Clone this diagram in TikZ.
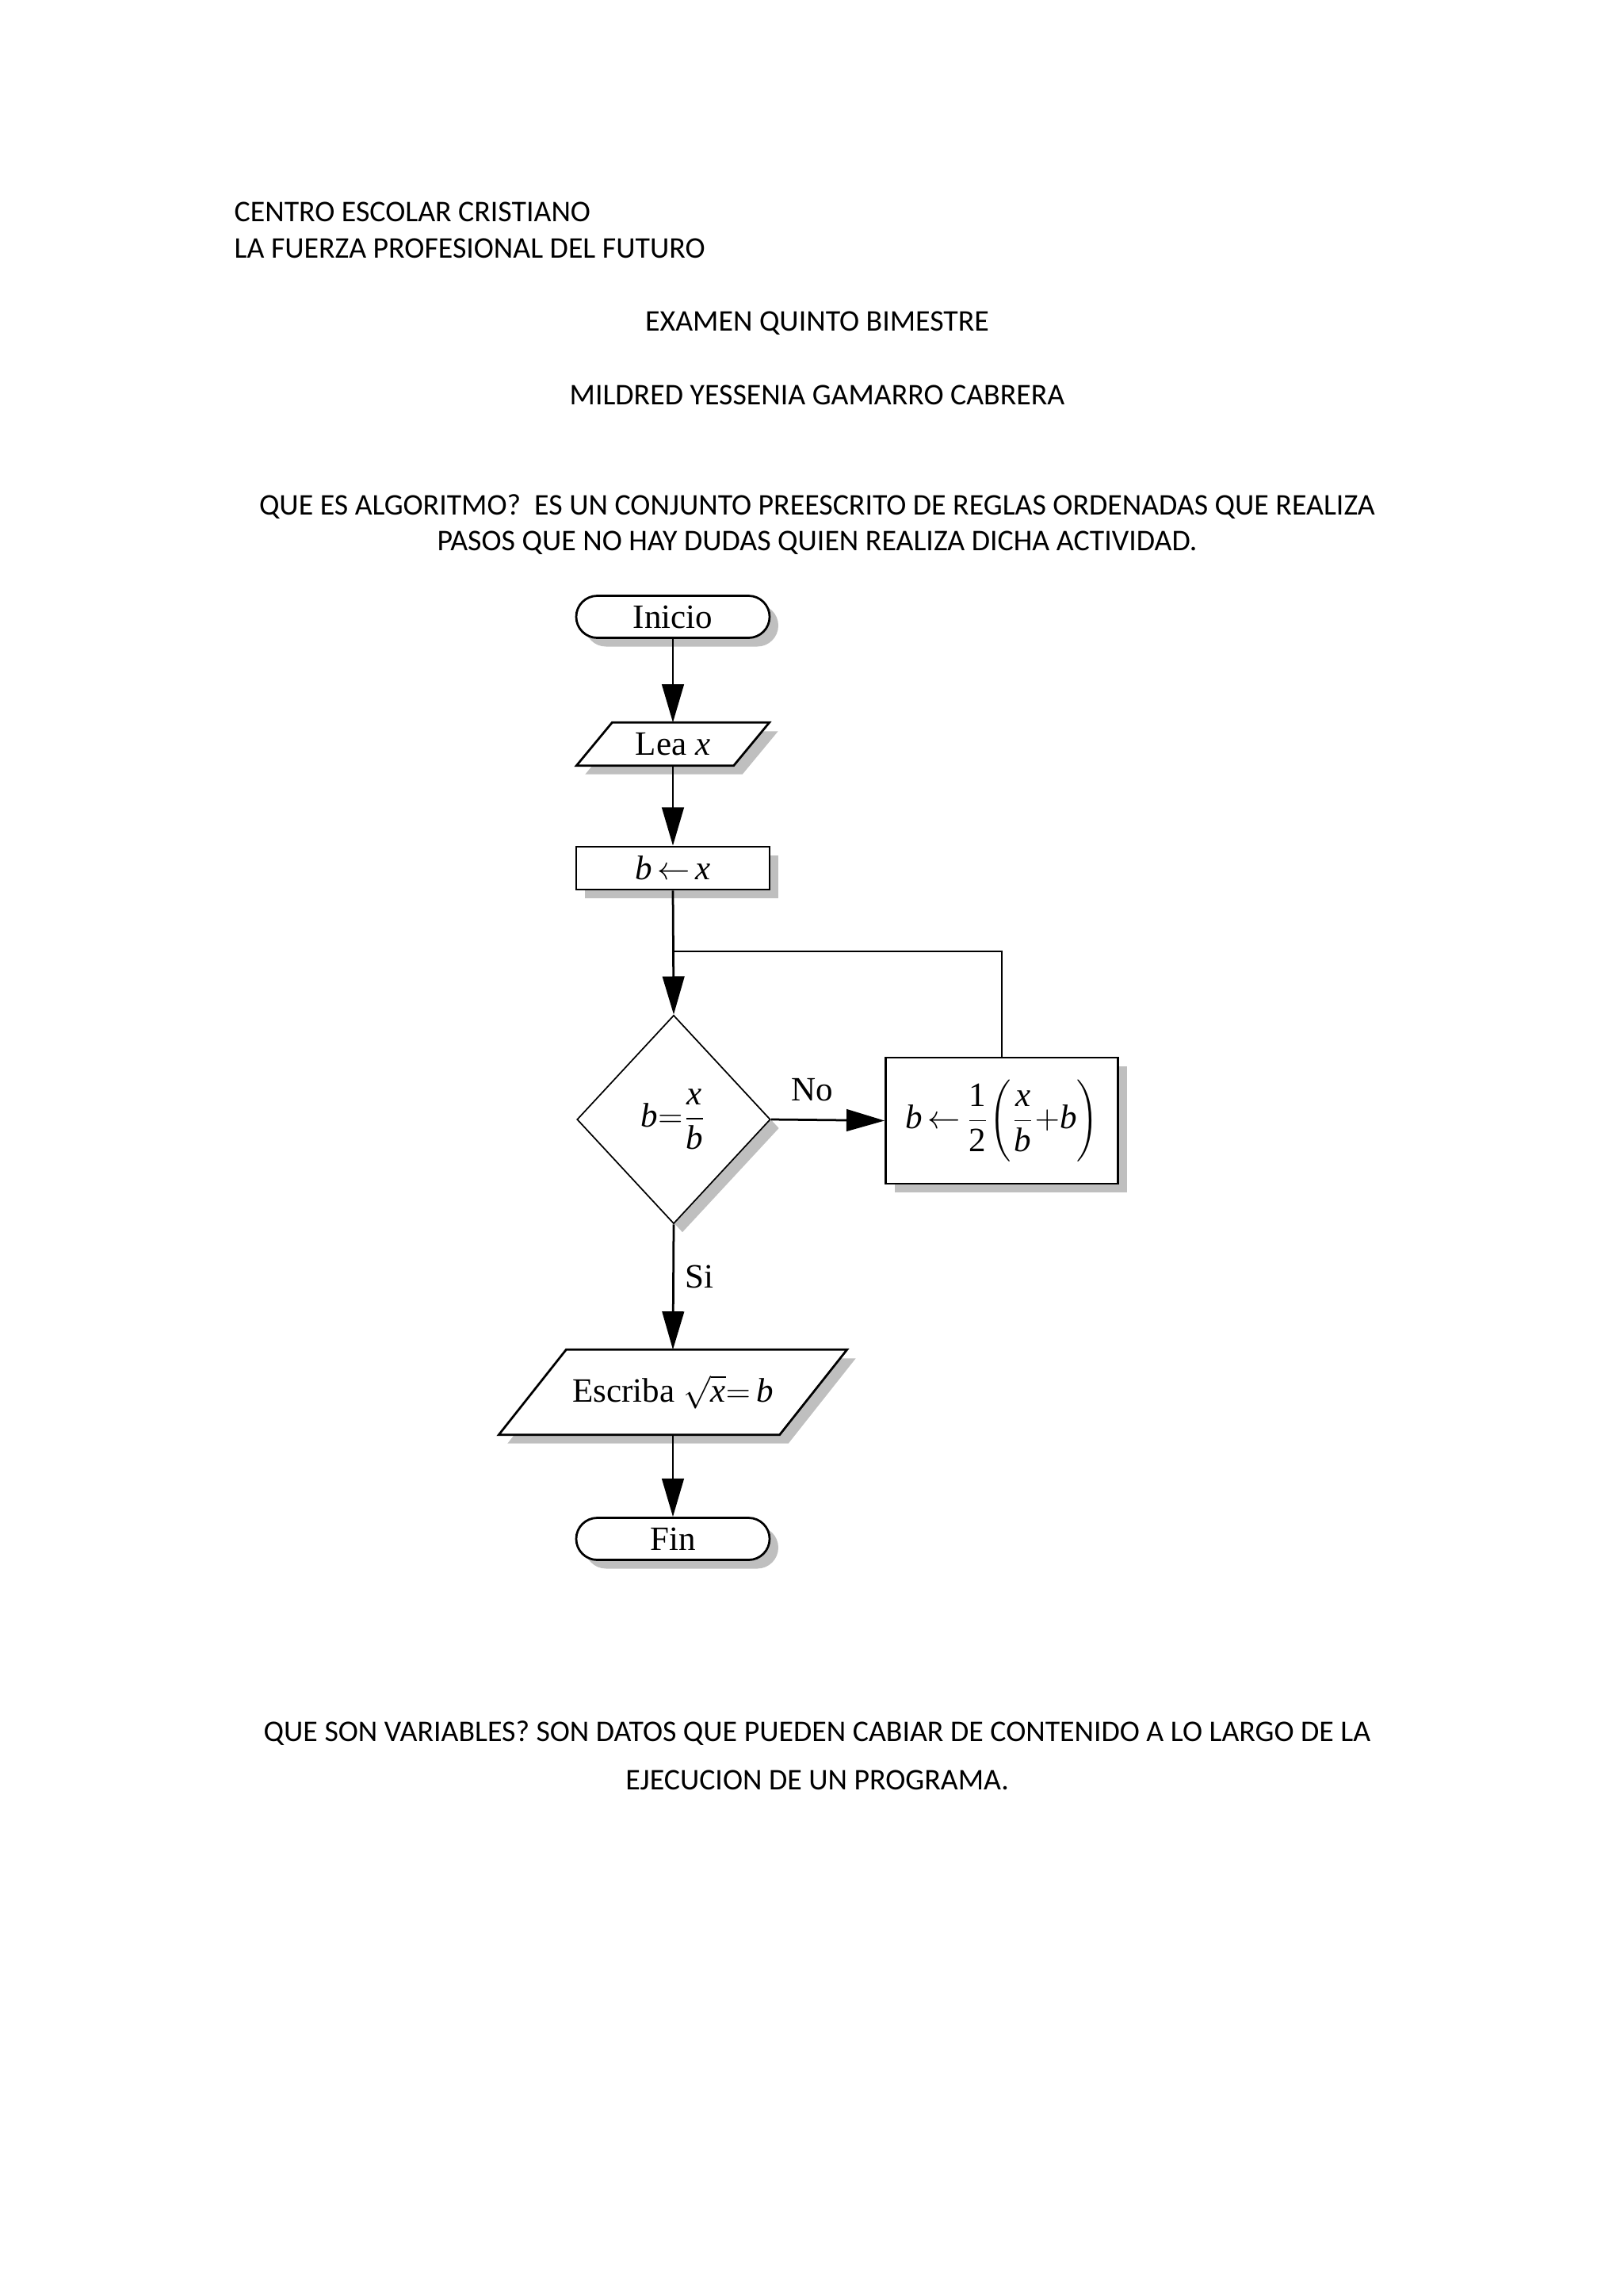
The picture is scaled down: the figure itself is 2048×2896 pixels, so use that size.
\documentclass[tikz,border=0pt]{standalone}
\usepackage{fontspec}
\setmainfont{Carlito}
\newfontfamily\fcserif{Liberation Serif}
\usetikzlibrary{shapes.geometric,shapes.misc,arrows.meta,shadows,calc,backgrounds}
\newcommand\pxu{0.29066pt}
\newcommand\mi[1]{\mbox{\itshape #1}}
\newcommand\mr[1]{\mbox{#1}}
\begin{document}
\begin{tikzpicture}[x=0.29066pt,y=-0.29066pt,
  body/.style={font=\fontsize{11}{13}\selectfont, inner sep=0pt, text height=7pt, text depth=0pt},
  ffont/.style={font=\fcserif\fontsize{12.5}{15}\selectfont},
  flow/.style={draw, line width=0.8pt, fill=white, ffont, inner sep=0pt},
  shad/.style={drop shadow={shadow xshift=11*\pxu, shadow yshift=-11*\pxu, fill=gray!50, opacity=1}},
  term/.style={flow, shad, rounded rectangle, minimum width=244*\pxu, minimum height=53*\pxu},
  procbox/.style={flow, shad, rectangle},
  dec/.style={flow, shad, diamond, line width=0.5pt, minimum width=244*\pxu, minimum height=263*\pxu},
  iobox/.style={ffont, inner sep=0pt, rectangle},
  shadowfill/.style={fill=gray!50},
  ioline/.style={draw, line width=0.8pt, fill=white},
  conn/.style={line width=0.8pt},
  arr/.style={conn, -{Triangle[length=14pt,width=8pt]}},
  lbl/.style={ffont, inner sep=0pt}
]
\useasboundingbox (0,0) rectangle (2048,2896);

% header text
\node[body, anchor=west] (t1) at (295,267) {CENTRO ESCOLAR CRISTIANO};
\node[body, anchor=west] (t2) at (295,313) {LA FUERZA PROFESIONAL DEL FUTURO};
\node[body] (t3) at (1031,405) {EXAMEN QUINTO BIMESTRE};
\node[body] (t4) at (1031,498) {MILDRED YESSENIA GAMARRO CABRERA};
\node[body] (t5) at (1031,637) {QUE ES ALGORITMO?\ \ ES UN CONJUNTO PREESCRITO DE REGLAS ORDENADAS QUE REALIZA};
\node[body] (t6) at (1031,682) {PASOS QUE NO HAY DUDAS QUIEN REALIZA DICHA ACTIVIDAD.};
\node[body] (t7) at (1031,2184) {QUE SON VARIABLES? SON DATOS QUE PUEDEN CABIAR DE CONTENIDO A LO LARGO DE LA};
\node[body] (t8) at (1031,2245) {EJECUCION DE UN PROGRAMA.};

% flowchart nodes
\node[term] (ini) at (849,778) {Inicio};
\node[iobox, minimum width=242*\pxu, minimum height=53*\pxu] (lea) at (849,938.5) {Lea \mi{x}};
\node[procbox, minimum width=244*\pxu, minimum height=54*\pxu] (bx) at (849,1095) {$\mi{b}\,{\leftarrow}\,\mi{x}$};
\node[dec] (dia) at (850,1412) {$\displaystyle \mi{b}{=}\frac{\mi{x}}{\mi{b}}$};
\node[procbox, minimum width=293*\pxu, minimum height=159*\pxu] (pr) at (1264,1413.5)
  {$\displaystyle \mi{b}\,{\leftarrow}\,\frac{\mr{1}}{\mr{2}}\Biggl(\frac{\mi{x}}{\mi{b}}{+}\mi{b}\Biggr)$};
\node[iobox, minimum width=438*\pxu, minimum height=106*\pxu] (esc) at (849,1756) {Escriba $\sqrt{\mi{x}}{=}\,\mi{b}$};
\node[term] (fin) at (849,1941) {Fin};

% parallelogram outlines (behind text)
\begin{scope}[on background layer]
  \path[shadowfill] ($(lea.north west)+(56,11)$) -- ($(lea.north east)+(11,11)$)
     -- ($(lea.south east)+(-34,11)$) -- ($(lea.south west)+(11,11)$) -- cycle;
  \path[ioline] ($(lea.north west)+(45,0)$) -- (lea.north east)
     -- ($(lea.south east)+(-45,0)$) -- (lea.south west) -- cycle;
  \path[shadowfill] ($(esc.north west)+(96,11)$) -- ($(esc.north east)+(11,11)$)
     -- ($(esc.south east)+(-74,11)$) -- ($(esc.south west)+(11,11)$) -- cycle;
  \path[ioline] ($(esc.north west)+(85,0)$) -- (esc.north east)
     -- ($(esc.south east)+(-85,0)$) -- (esc.south west) -- cycle;
\end{scope}

% connectors
\coordinate (join) at (849,1200);
\draw[arr] (ini.south) -- (lea.north);
\draw[arr] (lea.south) -- (bx.north);
\draw[arr] (bx.south) -- (dia.north);
\draw[conn] (pr.north) |- (join);
\draw[arr] (dia.east) -- node[lbl, pos=0.36, above=22*\pxu] (no) {No} (pr.west);
\draw[arr] (dia.south) -- node[lbl, pos=0.42, right=14*\pxu] (si) {Si} (esc.north);
\draw[arr] (esc.south) -- (fin.north);
\end{tikzpicture}
\end{document}
